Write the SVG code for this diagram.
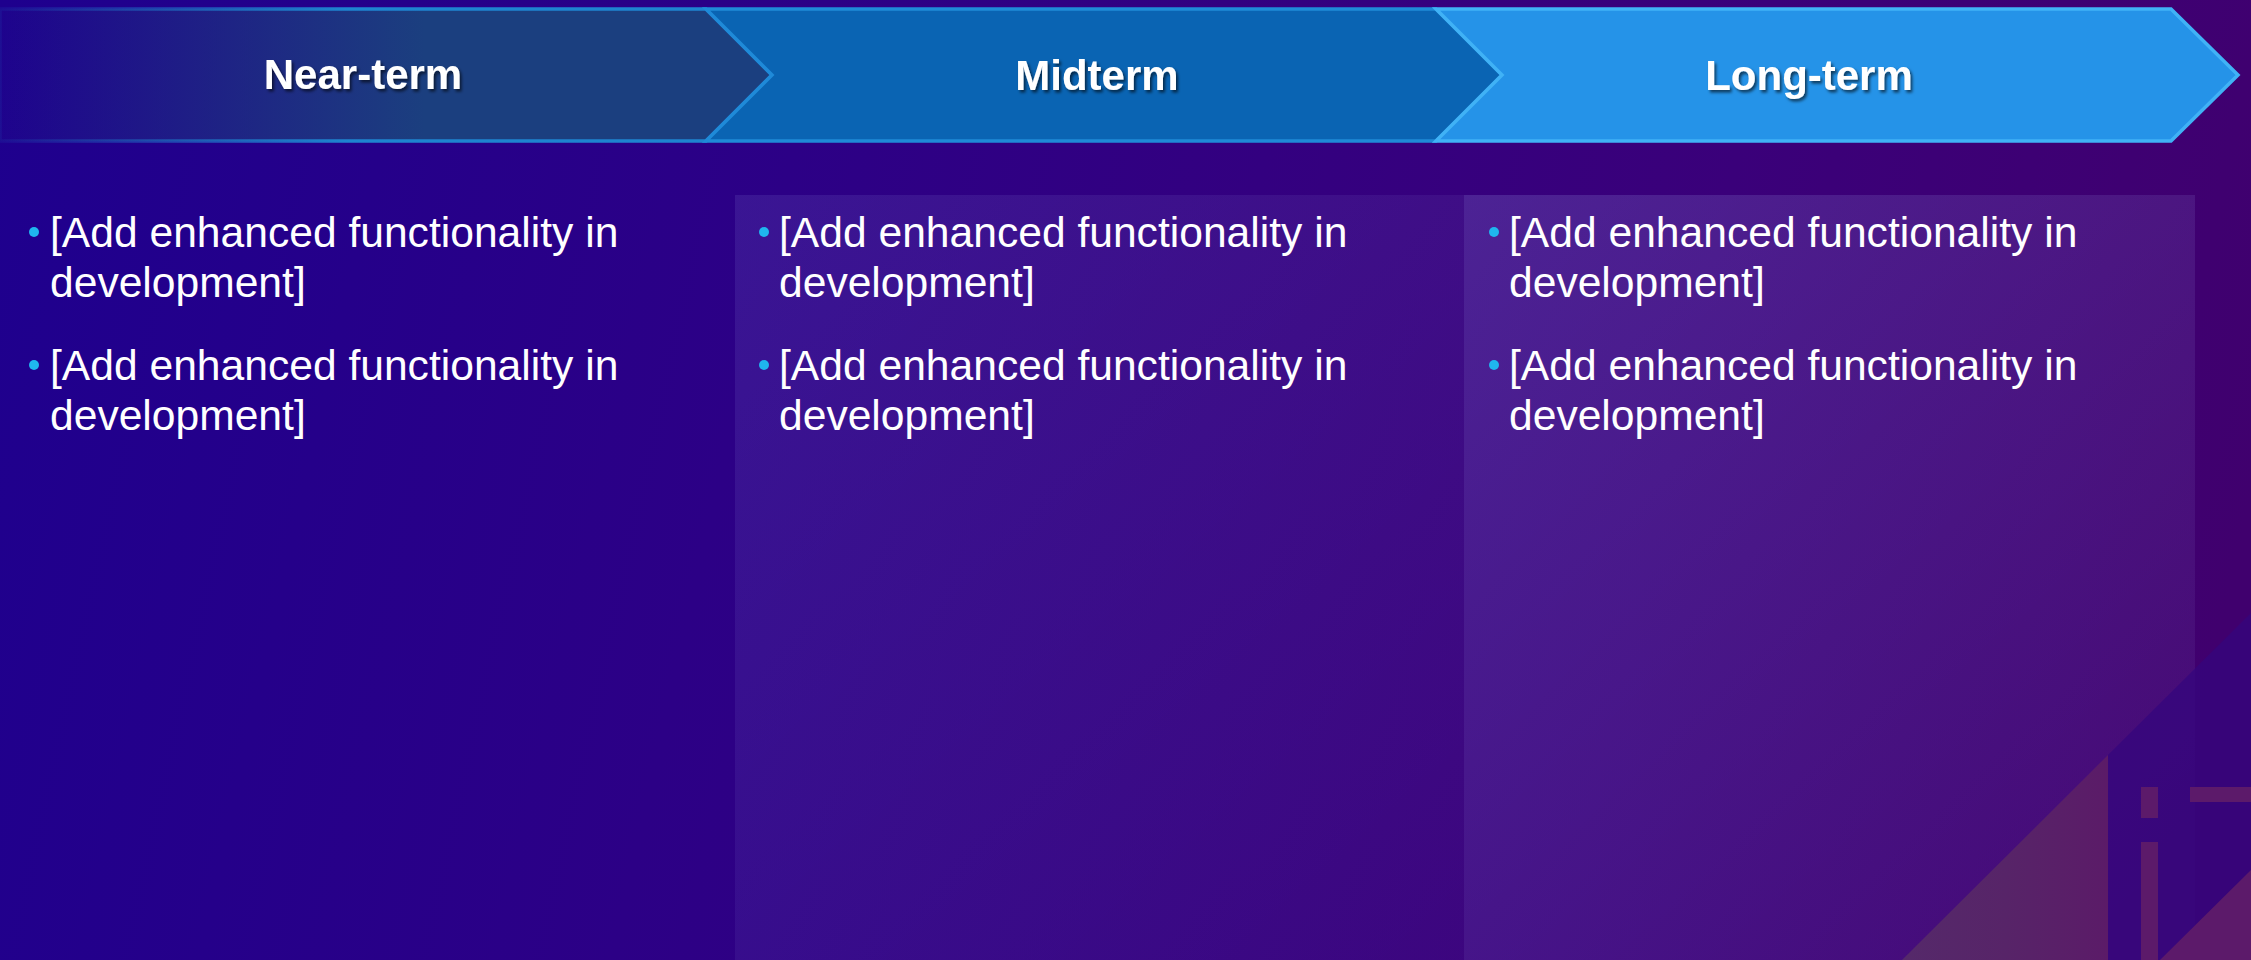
<svg xmlns="http://www.w3.org/2000/svg" width="2251" height="960" viewBox="0 0 2251 960">
  <defs>
    <linearGradient id="bg" x1="0" y1="0" x2="2251" y2="500" gradientUnits="userSpaceOnUse">
      <stop offset="0" stop-color="#1e008e"/>
      <stop offset="0.35" stop-color="#2c0086"/>
      <stop offset="0.75" stop-color="#3a007a"/>
      <stop offset="1" stop-color="#40006e"/>
    </linearGradient>
    <linearGradient id="c1fill" x1="0" y1="0" x2="772" y2="0" gradientUnits="userSpaceOnUse">
      <stop offset="0" stop-color="#1b3f7f" stop-opacity="0.05"/>
      <stop offset="0.55" stop-color="#1b3f7f" stop-opacity="1"/>
      <stop offset="1" stop-color="#1b3f7f"/>
    </linearGradient>
    <linearGradient id="c1stroke" x1="0" y1="0" x2="772" y2="0" gradientUnits="userSpaceOnUse">
      <stop offset="0" stop-color="#1e84d0" stop-opacity="0.1"/>
      <stop offset="0.45" stop-color="#1e84d0" stop-opacity="1"/>
      <stop offset="1" stop-color="#1e84d0"/>
    </linearGradient>
    <linearGradient id="p2" x1="735" y1="195" x2="1464" y2="960" gradientUnits="userSpaceOnUse">
      <stop offset="0" stop-color="#b0c0ff" stop-opacity="0.11"/>
      <stop offset="1" stop-color="#b0c0ff" stop-opacity="0.03"/>
    </linearGradient>
    <linearGradient id="p3" x1="1464" y1="195" x2="2195" y2="960" gradientUnits="userSpaceOnUse">
      <stop offset="0" stop-color="#b0c0ff" stop-opacity="0.18"/>
      <stop offset="1" stop-color="#b0c0ff" stop-opacity="0.04"/>
    </linearGradient>
    <linearGradient id="tri" x1="1904" y1="0" x2="2108" y2="0" gradientUnits="userSpaceOnUse">
      <stop offset="0" stop-color="#55296a"/>
      <stop offset="0.5" stop-color="#572468"/>
      <stop offset="1" stop-color="#5b1b68"/>
    </linearGradient>
    <filter id="shadow" x="-10%" y="-30%" width="120%" height="160%">
      <feDropShadow dx="2" dy="2.5" stdDeviation="1.5" flood-color="#000000" flood-opacity="0.6"/>
    </filter>
  </defs>
  <style>
    .hdr { font-family: "Liberation Sans", Arial, sans-serif; font-weight: bold; font-size: 42px; fill: #ffffff; text-anchor: middle; }
    .body { font-family: "Liberation Sans", Arial, sans-serif; font-size: 42.6px; fill: #ffffff; }
    .dot { fill: #1fb6ee; }
    .bar { fill: #5c1a6a; }
  </style>

  <rect id="background" x="0" y="0" width="2251" height="960" fill="url(#bg)"/>

  <g id="panels">
    <rect id="panel-mid" x="735" y="195" width="729" height="765" fill="url(#p2)"/>
    <rect id="panel-long" x="1464" y="195" width="731" height="765" fill="url(#p3)"/>
  </g>

  <g id="decoration">
    <polygon points="2108,755 2251,613 2251,960 2108,960" fill="#34067e" opacity="0.75"/>
    <polygon points="1902,960 2108,755 2108,960" fill="url(#tri)"/>
    <rect class="bar" x="2141" y="787" width="17" height="31"/>
    <rect class="bar" x="2141" y="842" width="17" height="118"/>
    <rect class="bar" x="2190" y="787" width="61" height="15"/>
    <polygon class="bar" points="2160,960 2251,870 2251,960"/>
  </g>

  <g id="node-near-term">
    <polygon points="0,9 706,9 772,75 706,141 0,141" fill="url(#c1fill)" stroke="url(#c1stroke)" stroke-width="3.5"/>
    <text class="hdr" x="363" y="89" filter="url(#shadow)">Near-term</text>
  </g>
  <g id="node-midterm">
    <polygon points="706,9 1436,9 1502,75 1436,141 706,141 772,75" fill="#0a64b3" stroke="#1f8ad8" stroke-width="3.5"/>
    <text class="hdr" x="1097" y="90" filter="url(#shadow)">Midterm</text>
  </g>
  <g id="node-long-term">
    <polygon points="1436,9 2171,9 2238,75 2171,141 1436,141 1502,75" fill="#2593e8" stroke="#40b2f6" stroke-width="3.5"/>
    <text class="hdr" x="1809" y="90" filter="url(#shadow)">Long-term</text>
  </g>

  <g id="connectors"></g>

  <g id="list-near-term">
    <circle class="dot" cx="34" cy="232" r="5"/>
    <text class="body" x="50" y="247">[Add enhanced functionality in</text>
    <text class="body" x="50" y="297">development]</text>
    <circle class="dot" cx="34" cy="365" r="5"/>
    <text class="body" x="50" y="380">[Add enhanced functionality in</text>
    <text class="body" x="50" y="430">development]</text>
  </g>
  <g id="list-midterm">
    <circle class="dot" cx="764" cy="232" r="5"/>
    <text class="body" x="779" y="247">[Add enhanced functionality in</text>
    <text class="body" x="779" y="297">development]</text>
    <circle class="dot" cx="764" cy="365" r="5"/>
    <text class="body" x="779" y="380">[Add enhanced functionality in</text>
    <text class="body" x="779" y="430">development]</text>
  </g>
  <g id="list-long-term">
    <circle class="dot" cx="1494" cy="232" r="5"/>
    <text class="body" x="1509" y="247">[Add enhanced functionality in</text>
    <text class="body" x="1509" y="297">development]</text>
    <circle class="dot" cx="1494" cy="365" r="5"/>
    <text class="body" x="1509" y="380">[Add enhanced functionality in</text>
    <text class="body" x="1509" y="430">development]</text>
  </g>
</svg>
